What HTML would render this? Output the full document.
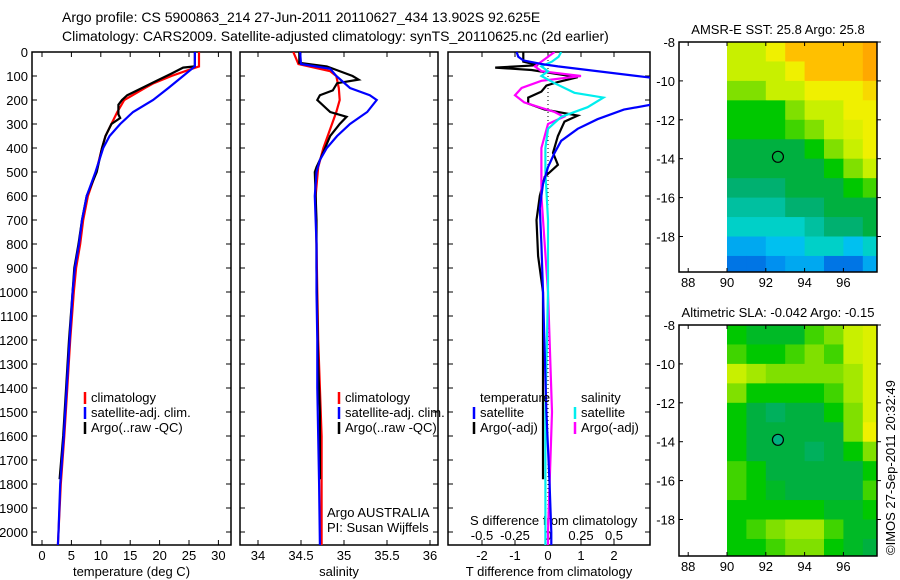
<!DOCTYPE html>
<html><head><meta charset="utf-8"><style>
html,body{margin:0;background:#fff;width:900px;height:580px;overflow:hidden;}
svg{display:block;font-family:"Liberation Sans",sans-serif;}
</style></head><body>
<svg id="fig" width="900" height="580" viewBox="0 0 900 580">
<rect width="900" height="580" fill="#fff"/>
<text x="62" y="22" font-size="14">Argo profile: CS 5900863_214 27-Jun-2011 20110627_434 13.902S 92.625E</text>
<text x="62" y="41" font-size="14">Climatology: CARS2009. Satellite-adjusted climatology: synTS_20110625.nc (2d earlier)</text>
</svg>
<script>
// ---- data ----
const depthTicks=[0,100,200,300,400,500,600,700,800,900,1000,1100,1200,1300,1400,1500,1600,1700,1800,1900,2000];
const tempTicks=[0,5,10,15,20,25,30];
const salTicks=[34,34.5,35,35.5,36];
const tdiffTicks=[-2,-1,0,1,2];
const sdiffTicks=[-0.5,-0.25,0,0.25,0.5];
const sdiffLabels=["-0.5","-0.25","0","0.25","0.5"];
const tempClimD=[0,60,70,100,130,150,200,250,300,350,400,500,600,700,800,900,1000,1200,1400,1600,1800,2000,2055];
const tempClimV=[26.7,26.7,25.5,22,19,17.5,14,12.8,11.8,10.8,10.2,9.2,7.8,7,6.5,5.8,5.4,4.8,4.3,3.8,3.2,2.8,2.7];
const tempSatD=[0,60,80,100,150,200,250,300,350,400,500,600,700,800,900,1000,1200,1400,1600,1800,2000,2055];
const tempSatV=[26,26,25,24,21.5,18.9,15.5,13.3,11.5,10.4,9.1,7.6,6.8,6.3,5.6,5.2,4.7,4.2,3.7,3.1,2.8,2.7];
const tempArgoD=[0,60,65,90,120,150,180,200,220,260,275,300,350,400,500,600,700,800,900,1000,1200,1400,1600,1780];
const tempArgoV=[26,26,24,22,19.5,17,14.5,13.6,13,13,13.3,11.8,10.8,10.2,9.3,7.6,6.8,6.2,5.5,5.2,4.6,4.1,3.6,3.0];
const salClimD=[0,50,80,100,150,200,250,300,400,480,600,800,1000,1200,1400,1600,1800,2055];
const salClimV=[34.41,34.47,34.84,34.91,34.94,34.95,34.91,34.86,34.76,34.7,34.67,34.68,34.69,34.7,34.72,34.74,34.74,34.74];
const salSatD=[0,50,70,100,150,180,200,250,300,350,400,450,500,600,800,1000,1200,1400,1600,1800,2055];
const salSatV=[34.49,34.5,34.84,34.91,35.07,35.3,35.38,35.27,35.07,34.92,34.8,34.72,34.68,34.66,34.68,34.68,34.69,34.69,34.7,34.71,34.72];
const salArgoD=[0,45,60,100,115,130,160,180,200,250,270,300,350,400,450,480,500,700,900,1100,1300,1500,1700,1780];
const salArgoV=[34.48,34.48,34.8,35.1,35.17,34.92,34.87,34.72,34.69,34.84,35.03,34.95,34.84,34.78,34.72,34.68,34.66,34.68,34.68,34.69,34.7,34.72,34.72,34.72];
const tdSatD=[0,20,35,50,60,110,215,240,280,320,370,420,480,550,650,800,1000,1500,1800,2000,2055];
const tdSatV=[-0.95,-0.9,-0.75,-0.2,0.3,3.3,3.3,2.3,1.5,0.9,0.4,0.2,0,-0.15,-0.25,-0.2,-0.15,-0.05,0.05,0.1,0.1];
const tdArgoD=[0,40,55,65,75,105,125,140,165,190,215,240,265,290,350,420,470,520,600,700,850,1000,1200,1400,1600,1780];
const tdArgoV=[-0.75,-0.75,-0.3,-1.6,-0.5,0.9,0.3,-0.05,-0.2,-0.6,-0.6,-0.1,0.9,0.5,0.3,0.15,0.3,-0.1,-0.25,-0.35,-0.3,-0.15,-0.15,-0.15,-0.15,-0.15];
const sdSatD=[0,20,40,60,80,100,130,170,190,230,270,320,400,500,700,1000,1500,2000,2055];
const sdSatV=[0.1,0.08,0.03,-0.05,0,-0.05,0.05,0.2,0.42,0.3,0.1,0,-0.02,-0.02,0,0,-0.02,-0.02,-0.02];
const sdArgoD=[0,40,60,80,100,120,150,180,210,250,270,300,400,600,1000,1500,2000,2055];
const sdArgoV=[0.05,-0.05,-0.1,-0.05,0.25,-0.05,-0.2,-0.25,-0.18,0.05,0.12,0,-0.05,-0.05,0,0.03,0,0];
const mapLons=[90,91,92,93,94,95,96,97];
const mapLats=[-8,-9,-10,-11,-12,-13,-14,-15,-16,-17,-18,-19];
const sstGrid=[
[7,7,8,9,9,9,9,9.5],[7,7,7,8,9,9,9,9.5],[6,6,7,7,8,8,8,8.5],[5,5,5,6,7,7,8,8],
[5,5,5,5.5,6,7,7.5,8],[4.5,4.5,4.5,4.5,5,6,7,8],[4.5,4.5,4.5,4.5,4.5,5,6,7],[4,4,4,4.5,4.5,4.5,5,5.5],
[3.5,3.5,3.5,4,4,4.5,4.5,4.5],[3,3,3,3,3.5,4,4,4.5],[2,2,2.5,2.5,3,3,2.5,3],[1,1,1.5,2,2,1,1,2]];
const slaGrid=[
[5,4.7,4.7,4.7,5.5,6,7,7.5],[5.5,5,5,5.5,6,5.5,7,7.5],[7,6.5,6,6,6,6,6.5,7.5],[6,5,5,5,5,5.5,6.5,7.5],
[5,4.5,4.2,4.5,4.5,5,6,7.5],[5,4.5,4.5,4.5,4.5,4.5,6,8],[5,4.5,4.5,4.5,4.2,4.5,5,6],[5.5,5,4.5,4.5,4.5,4.5,4.5,5],
[5.5,5,4.7,4.5,4.5,4.5,4.5,5.5],[5,5,5,5,5,4.7,4.7,5],[5,5.5,6,6.5,6.5,5.5,4.7,4.7],[5,5,5.5,6,6,5,4.7,4.5]];
const mapXTicks=[88,90,92,94,96];
const mapYTicks=[-8,-10,-12,-14,-16,-18];
const argoLon=92.625, argoLat=-13.902;

const NS="http://www.w3.org/2000/svg";
const svg=document.getElementById('fig');
function mk(tag,attrs,parent){const e=document.createElementNS(NS,tag);for(const k in attrs)e.setAttribute(k,attrs[k]);(parent||svg).appendChild(e);return e;}
function txt(x,y,s,size,anchor,parent){const t=mk('text',{x:x,y:y,'font-size':size||13,'text-anchor':anchor||'start'},parent);t.textContent=s;return t;}

const yD=d=>52+d*0.24;
const PT=52,PB=545;
const panels=[
 {name:'temperature',l:32,r:231,x:v=>42+v*5.88},
 {name:'salinity',l:240,r:438,x:v=>258+(v-34)*86},
 {name:'difference',l:448,r:650,x:v=>548+v*33}
];
const xSd=v=>548+v*132;

panels.forEach((p,i)=>{
 const g=mk('g',{});
 
 
 const fr=mk('rect',{x:p.l,y:PT,width:p.r-p.l,height:PB-PT,fill:'none',stroke:'#000','stroke-width':1.5},g);
 
 
 depthTicks.forEach(d=>{
  mk('line',{x1:p.l,x2:p.l+5,y1:yD(d),y2:yD(d),stroke:'#000'},g);
  mk('line',{x1:p.r-5,x2:p.r,y1:yD(d),y2:yD(d),stroke:'#000'},g);
  if(i===0){const t=txt(28,yD(d)+5,String(d),13,'end',g);
   
   }
 });
});
function xticks(p,ticks,labels,ly,title){
 const g=mk('g',{});
 
 
 ticks.forEach((v,k)=>{const x=p.x(v);
  mk('line',{x1:x,x2:x,y1:PB,y2:PB-5,stroke:'#000'},g);
  mk('line',{x1:x,x2:x,y1:PT,y2:PT+5,stroke:'#000'},g);
  txt(x,ly,labels?labels[k]:String(v),13,'middle',g);});
 const t=txt((p.l+p.r)/2,576,title,13,'middle',g);
 
 
}
xticks(panels[0],tempTicks,null,560,'temperature (deg C)');
xticks(panels[1],salTicks,null,560,'salinity');
xticks(panels[2],tdiffTicks,null,560,'T difference from climatology');
{const g=mk('g',{});
 sdiffTicks.forEach((v,k)=>txt(xSd(v),540,sdiffLabels[k],13,'middle',g));
 txt(470,525,'S difference from climatology',13,'start',g);}
mk('line',{x1:548,x2:548,y1:PT,y2:PB,stroke:'#000','stroke-dasharray':'1,3'});

function clip(id,p){const c=mk('clipPath',{id:id});mk('rect',{x:p.l,y:PT,width:p.r-p.l,height:PB-PT},c);}
panels.forEach((p,i)=>clip('c'+i,p));
function line(D,V,xf,color,ci,name){
 const pts=D.map((d,k)=>xf(V[k]).toFixed(1)+','+yD(d).toFixed(1)).join(' ');
 const e=mk('polyline',{points:pts,fill:'none',stroke:color,'stroke-width':2.2,'clip-path':'url(#c'+ci+')'});
 
 
}
line(tempClimD,tempClimV,panels[0].x,'#f00',0,'temp-climatology-line');
line(tempArgoD,tempArgoV,panels[0].x,'#000',0,'temp-argo-line');
line(tempSatD,tempSatV,panels[0].x,'#00f',0,'temp-satellite-line');
line(salClimD,salClimV,panels[1].x,'#f00',1,'sal-climatology-line');
line(salArgoD,salArgoV,panels[1].x,'#000',1,'sal-argo-line');
line(salSatD,salSatV,panels[1].x,'#00f',1,'sal-satellite-line');
line(tdArgoD,tdArgoV,panels[2].x,'#000',2,'tdiff-argo-line');
line(sdArgoD,sdArgoV,xSd,'#f0f',2,'sdiff-argo-line');
line(sdSatD,sdSatV,xSd,'#0ee',2,'sdiff-satellite-line');
line(tdSatD,tdSatV,panels[2].x,'#00f',2,'tdiff-satellite-line');

function legend(x,y,items,name){const g=mk('g',{});
 
 
 items.forEach((it,k)=>{const yy=y+k*15;
  if(it[0])mk('line',{x1:x,x2:x,y1:yy-10,y2:yy+2,stroke:it[0],'stroke-width':2.5},g);
  txt(x+6,yy,it[1],13,'start',g);});}
legend(85,402,[['#f00','climatology'],['#00f','satellite-adj. clim.'],['#000','Argo(..raw -QC)']],'temperature-legend');
legend(339,402,[['#f00','climatology'],['#00f','satellite-adj. clim.'],['#000','Argo(..raw -QC)']],'salinity-legend');
legend(474,402,[[null,'temperature'],['#00f','satellite'],['#000','Argo(-adj)']],'tdiff-legend');
legend(575,402,[[null,'salinity'],['#0ee','satellite'],['#f0f','Argo(-adj)']],'sdiff-legend');
{const g=mk('g',{});
 txt(327,517,'Argo AUSTRALIA',13,'start',g);txt(327,532,'PI: Susan Wijffels',13,'start',g);}

const stops=[[0,[0,64,208]],[1.5,[0,144,240]],[2.5,[0,192,240]],[3,[0,208,200]],[3.5,[0,192,160]],[4,[0,176,112]],[4.5,[0,176,64]],[5,[0,200,0]],[6,[128,224,0]],[7,[200,240,0]],[8,[240,240,0]],[9,[255,192,0]],[10,[255,144,0]]];
function col(v){for(let i=1;i<stops.length;i++){if(v<=stops[i][0]){const a=stops[i-1],b=stops[i],t=(v-a[0])/(b[0]-a[0]);
 const c=a[1].map((q,j)=>Math.round(q+(b[1][j]-q)*t));return 'rgb('+c.join(',')+')';}}return 'rgb(255,144,0)';}
function map(top,bottom,grid,title,name,fillCirc){
 const L=679,R=877;const mx=lo=>727+(lo-90)*19.4;const my=la=>top+(-8-la)*19.45;
 const g=mk('g',{});
 
 
 const cid='m'+name;const c=mk('clipPath',{id:cid});mk('rect',{x:L,y:top,width:R-L,height:bottom-top},c);
 const cells=mk('g',{'clip-path':'url(#'+cid+')'},g);
 mapLats.forEach((la,r)=>mapLons.forEach((lo,k)=>{
  const e=mk('rect',{x:mx(lo),y:my(la),width:19.9,height:19.9,fill:col(grid[r][k])},cells);
  
  
 }));
 mk('rect',{x:L,y:top,width:R-L,height:bottom-top,fill:'none',stroke:'#000','stroke-width':1.5},g);
 mapXTicks.forEach(v=>{mk('line',{x1:mx(v),x2:mx(v),y1:top,y2:top+4,stroke:'#000'},g);mk('line',{x1:mx(v),x2:mx(v),y1:bottom,y2:bottom-4,stroke:'#000'},g);
  txt(mx(v),bottom+15,String(v),13,'middle',g);});
 mapYTicks.forEach(v=>{mk('line',{x1:L,x2:L+4,y1:my(v),y2:my(v),stroke:'#000'},g);mk('line',{x1:R,x2:R+4,y1:my(v),y2:my(v),stroke:'#000'},g);
  txt(L-4,my(v)+5,String(v),13,'end',g);});
 const ci=mk('circle',{cx:mx(argoLon),cy:my(argoLat),r:5.5,fill:fillCirc||'none',stroke:'#000','stroke-width':1.2},g);
 
 
 const t=txt(778,top-8,title,13,'middle',g);
 
 
}
map(42,272,sstGrid,'AMSR-E SST: 25.8 Argo: 25.8','sst-map',null);
map(325,556,slaGrid,'Altimetric SLA: -0.042 Argo: -0.15','sla-map','#00b080');
{const t=txt(0,0,'©IMOS 27-Sep-2011 20:32:49',13,'start');
 t.setAttribute('transform','translate(895,555) rotate(-90)');
 
 }
</script>
</body></html>
